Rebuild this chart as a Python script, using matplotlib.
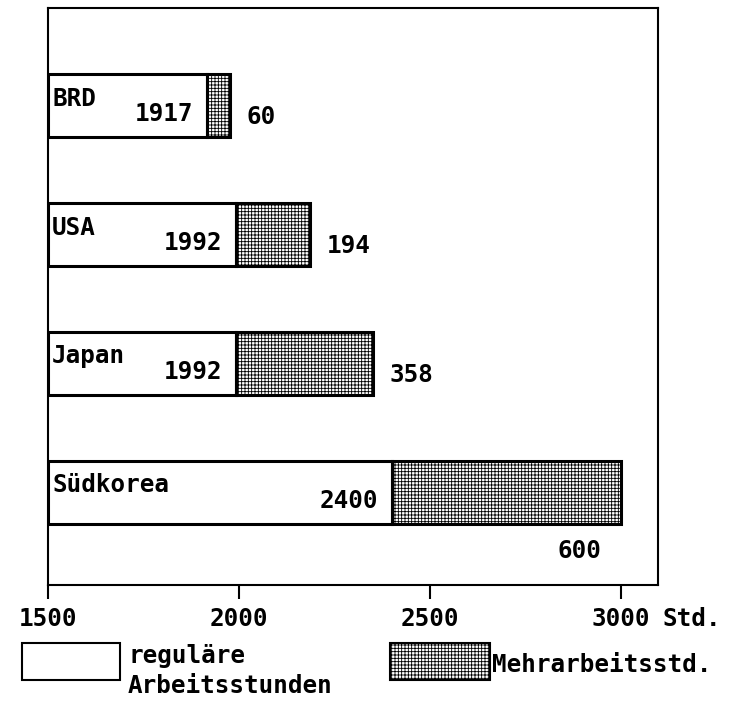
import matplotlib
matplotlib.use("Agg")
import matplotlib.pyplot as plt
from matplotlib.patches import Rectangle

countries = ["Südkorea", "Japan", "USA", "BRD"]
regular = [2400, 1992, 1992, 1917]
overtime = [600, 358, 194, 60]
xticks = [1500, 2000, 2500, 3000]
xticklabels = ["1500", "2000", "2500", "3000"]

plt.rcParams['font.family'] = ['DejaVu Sans Mono']
plt.rcParams['hatch.linewidth'] = 0.6
FS = 17.5

fig = plt.figure(figsize=(7.3, 7.02), dpi=100)
ax = fig.add_axes([48/730, 1-585/702, (658-48)/730, (585-8)/702])

ypos = list(range(len(countries)))
h = 0.49
ax.barh(ypos, [r - 1500 for r in regular], left=1500, height=h,
        facecolor='white', edgecolor='black', linewidth=2.2)
ax.barh(ypos, overtime, left=regular, height=h,
        facecolor='white', edgecolor='black', linewidth=2.2, hatch='+++++')

for y, c, r, o in zip(ypos, countries, regular, overtime):
    ax.annotate(c, (1500, y + h/2), xytext=(3, -9), textcoords='offset points',
                ha='left', va='top', fontsize=FS, fontweight='bold')
    ax.annotate(str(r), (r, y - h/2), xytext=(-10, 8), textcoords='offset points',
                ha='right', va='bottom', fontsize=FS, fontweight='bold')
    if c == "Südkorea":
        ax.annotate(str(o), (r + o, y - h/2), xytext=(-14, -11), textcoords='offset points',
                    ha='right', va='top', fontsize=FS, fontweight='bold')
    else:
        ax.annotate(str(o), (r + o, y - h/2), xytext=(12, 6), textcoords='offset points',
                    ha='left', va='bottom', fontsize=FS, fontweight='bold')

ax.set_xlim(1500, 3097)
ax.set_ylim(-0.72, 3.76)
ax.set_yticks([])
ax.set_xticks(xticks)
ax.set_xticklabels(xticklabels, fontsize=FS, fontweight='bold')
ax.tick_params(axis='x', direction='out', length=10, width=1.5, pad=6)
for s in ax.spines.values():
    s.set_linewidth(1.5)

ax.annotate("Std.", (3000, 0), xycoords=('data', 'axes fraction'),
            xytext=(30, -16), textcoords='offset points',
            ha='left', va='top', fontsize=FS, fontweight='bold')

# legend
fig.patches.append(Rectangle((22/730, 1-680/702), 98/730, 37/702, transform=fig.transFigure,
                             facecolor='white', edgecolor='black', linewidth=1.5))
fig.text(128/730, 1-656/702, "reguläre", fontsize=FS, fontweight='bold', va='center', ha='left')
fig.text(128/730, 1-686/702, "Arbeitsstunden", fontsize=FS, fontweight='bold', va='center', ha='left')
fig.patches.append(Rectangle((390/730, 1-680/702), 100/730, 37/702, transform=fig.transFigure,
                             facecolor='white', edgecolor='black', linewidth=1.5, hatch='+++++'))
fig.text(492/730, 1-665/702, "Mehrarbeitsstd.", fontsize=FS, fontweight='bold', va='center', ha='left')

fig.savefig("out.png", dpi=100)
